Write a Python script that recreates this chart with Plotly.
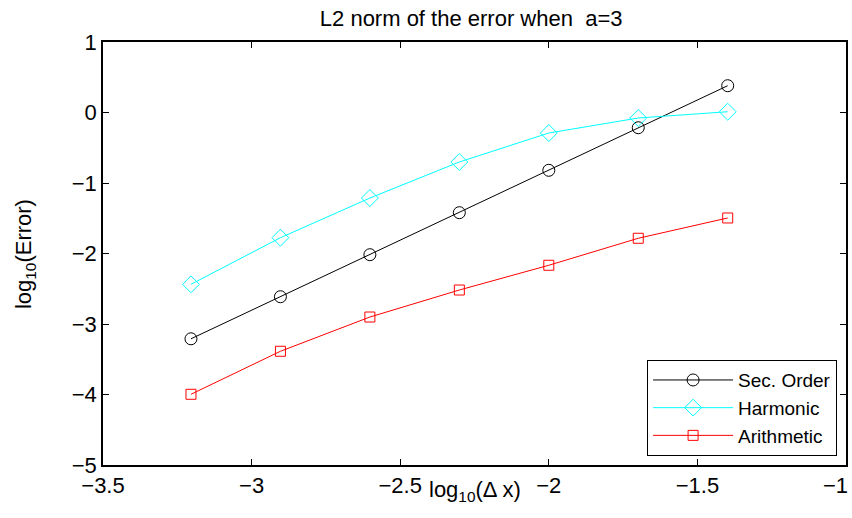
import plotly.graph_objects as go

log_dx = [-3.204, -2.903, -2.602, -2.301, -2.000, -1.699, -1.398]
sec_order = [-3.21, -2.613, -2.017, -1.421, -0.820, -0.216, 0.380]
harmonic = [-2.437, -1.776, -1.213, -0.702, -0.291, -0.078, 0.011]
arithmetic = [-3.997, -3.387, -2.901, -2.518, -2.167, -1.784, -1.496]

x_ticks = [-3.5, -3, -2.5, -2, -1.5, -1]
x_ticktext = ["−3.5", "−3", "−2.5", "−2", "−1.5", ""]
x_last_label = "−1"
y_ticks = [-5, -4, -3, -2, -1, 0, 1]
y_ticktext = ["−5", "−4", "−3", "−2", "−1", "0", "1"]

FONT = "Liberation Sans, Arial, Helvetica, sans-serif"
FS = 22

fig = go.Figure()
fig.add_trace(go.Scatter(x=log_dx, y=sec_order, mode="lines+markers", name="Sec. Order",
                         line=dict(color="black", width=1),
                         marker=dict(symbol="circle-open", size=12, color="black", line=dict(width=1))))
fig.add_trace(go.Scatter(x=log_dx, y=harmonic, mode="lines+markers", name="Harmonic",
                         line=dict(color="cyan", width=1),
                         marker=dict(symbol="diamond-open", size=13, color="cyan", line=dict(width=1))))
fig.add_trace(go.Scatter(x=log_dx, y=arithmetic, mode="lines+markers", name="Arithmetic",
                         line=dict(color="red", width=1),
                         marker=dict(symbol="square-open", size=10, color="red", line=dict(width=1))))

axis_common = dict(showgrid=False, zeroline=False, showline=True, linecolor="black", linewidth=1.5,
                   mirror="allticks", ticks="inside", ticklen=6, tickcolor="black",
                   ticklabeloverflow="allow", automargin=False,
                   tickfont=dict(family=FONT, size=FS, color="black"))

fig.update_layout(
    width=852, height=518,
    margin=dict(l=103, r=6, t=42, b=53, autoexpand=False),
    paper_bgcolor="white", plot_bgcolor="white",
    title=dict(text="L2 norm of the error when  a=3", x=0.553, xanchor="center", y=0.964, yanchor="middle",
               font=dict(family=FONT, size=FS, color="black")),
    xaxis=dict(range=[-3.5, -1], tickmode="array", tickvals=x_ticks, ticktext=x_ticktext, **axis_common),
    yaxis=dict(range=[-5, 1], tickmode="array", tickvals=y_ticks, ticktext=y_ticktext, **axis_common),
    legend=dict(x=0.988, xanchor="right", y=0.021, yanchor="bottom",
                bordercolor="black", borderwidth=1, bgcolor="white",
                font=dict(family=FONT, size=19, color="black"),
                itemwidth=80, tracegroupgap=0),
    showlegend=True,
    annotations=[
        dict(text=x_last_label, xref="paper", yref="paper", x=1.0054, y=-0.0473,
             xanchor="right", yanchor="middle", showarrow=False,
             font=dict(family=FONT, size=FS, color="black")),
        dict(text="log<sub>10</sub>(Δ x)", xref="paper", yref="paper", x=0.5, y=-0.062,
             xanchor="center", yanchor="middle", showarrow=False,
             font=dict(family=FONT, size=FS, color="black")),
        dict(text="log<sub>10</sub>(Error)", xref="paper", yref="paper", x=-0.104, y=0.498,
             xanchor="center", yanchor="middle", showarrow=False, textangle=-90,
             font=dict(family=FONT, size=FS, color="black")),
    ],
)

fig.write_html("out.html")
